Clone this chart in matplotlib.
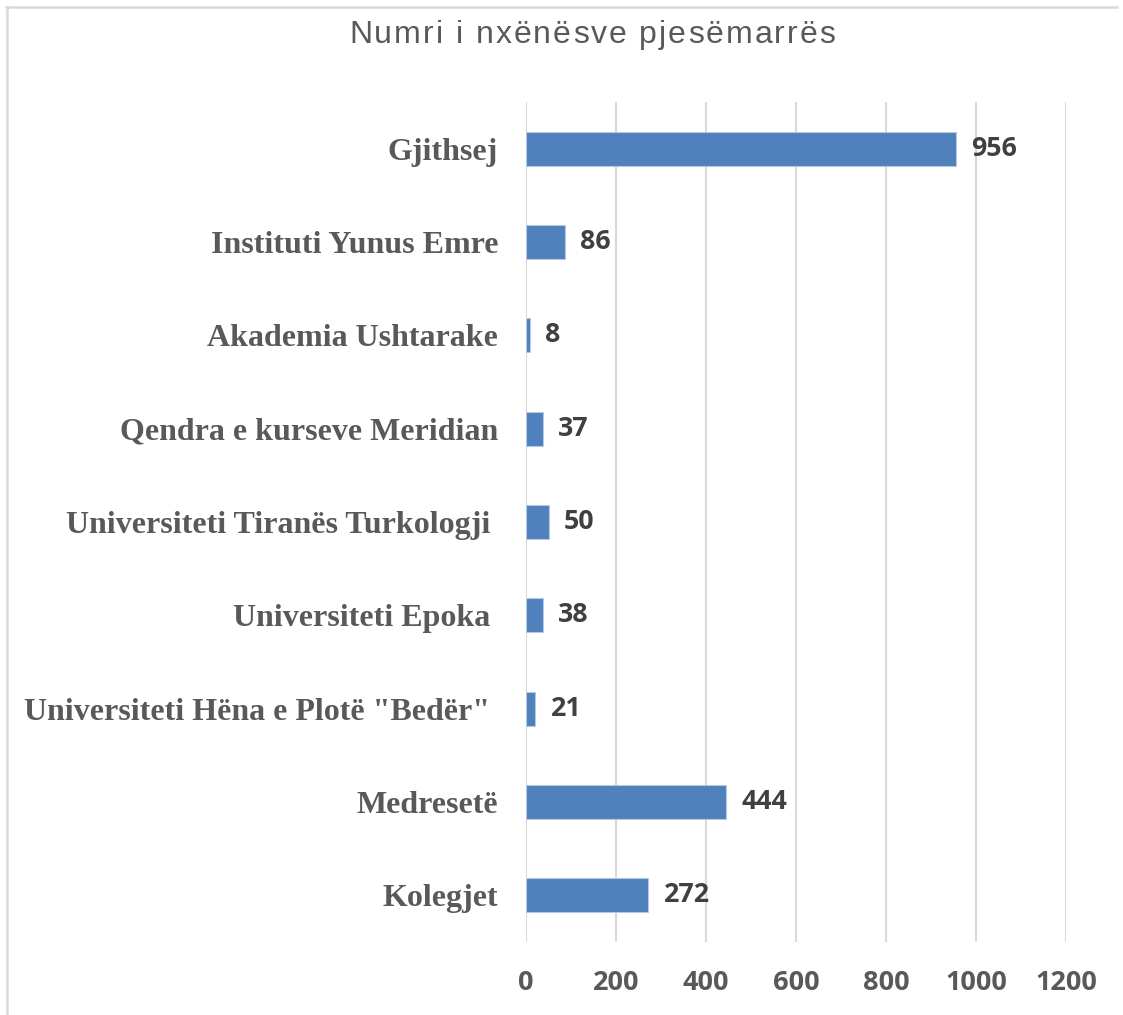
import numpy as np
import matplotlib
matplotlib.use("Agg")
import matplotlib.pyplot as plt
from matplotlib.lines import Line2D

# data, bottom to top
categories = ["Kolegjet", "Medresetë", 'Universiteti Hëna e Plotë "Bedër" ',
              "Universiteti Epoka ", "Universiteti Tiranës Turkologji ",
              "Qendra e kurseve Meridian", "Akademia Ushtarake",
              "Instituti Yunus Emre", "Gjithsej"]
values = [272, 444, 21, 38, 50, 37, 8, 86, 956]
xticks = [0, 200, 400, 600, 800, 1000, 1200]
title = "Numri i nxënësve pjesëmarrës"

W, H = 1123, 1015
fig = plt.figure(figsize=(W / 100, H / 100), dpi=100)
fig.patch.set_facecolor("white")

# axes box in pixel terms
left, right, top, bottom = 526, 1066, 102, 942
ax = fig.add_axes([left / W, 1 - bottom / H, (right - left) / W, (bottom - top) / H])

y = np.arange(len(categories))
ax.barh(y, values, height=0.365, color="#4F81BD", edgecolor="#B4C9E4", linewidth=0.8, zorder=3)

ax.set_xlim(0, 1200)
ax.set_ylim(-0.5, len(categories) - 0.5)
ax.set_xticks(xticks)
ax.set_xticklabels([str(t) for t in xticks], fontfamily="Open Sans", fontweight="bold",
                   fontsize=19.5, color="#595959")
ax.set_yticks(y)
ax.set_yticklabels(categories, fontfamily="Liberation Serif", fontweight="bold",
                   fontsize=23, color="#595959")
ax.tick_params(axis="x", length=0, pad=20)
ax.tick_params(axis="y", length=0, pad=20)
ax.grid(axis="x", color="#D9D9D9", linewidth=1.5, zorder=0)
for s in ax.spines.values():
    s.set_visible(False)

# value labels
for yi, v in zip(y, values):
    ax.annotate(str(v), (v, yi), xytext=(11, 0), textcoords="offset points",
                ha="left", va="center", fontfamily="Open Sans", fontweight="bold",
                fontsize=19.3, color="#404040")

# title with extra letter spacing, one char at a time
renderer = fig.canvas.get_renderer()
tkw = dict(fontfamily="Liberation Sans", fontsize=23, color="#595959")


def text_w(s):
    t = fig.text(0, 0, s, **tkw)
    w = t.get_window_extent(renderer).width
    t.remove()
    return w


space_w = text_w("n n") - text_w("nn")
widths = [space_w if c == " " else text_w(c) for c in title]
track = 2.0
total = sum(widths) + track * (len(title) - 1)
x = 592 - total / 2
for c, w in zip(title, widths):
    if c != " ":
        fig.text(x / W, 1 - 35 / H, c, ha="left", va="center", **tkw)
    x += w + track

# chart border (top and left visible)
fig.add_artist(Line2D([6 / W, 1117 / W], [1 - 7 / H, 1 - 7 / H], color="#D9D9D9", linewidth=1.8,
                      transform=fig.transFigure))
fig.add_artist(Line2D([7 / W, 7 / W], [1 - 7 / H, 0], color="#D9D9D9", linewidth=1.8,
                      transform=fig.transFigure))

fig.savefig("out.png", dpi=100)
